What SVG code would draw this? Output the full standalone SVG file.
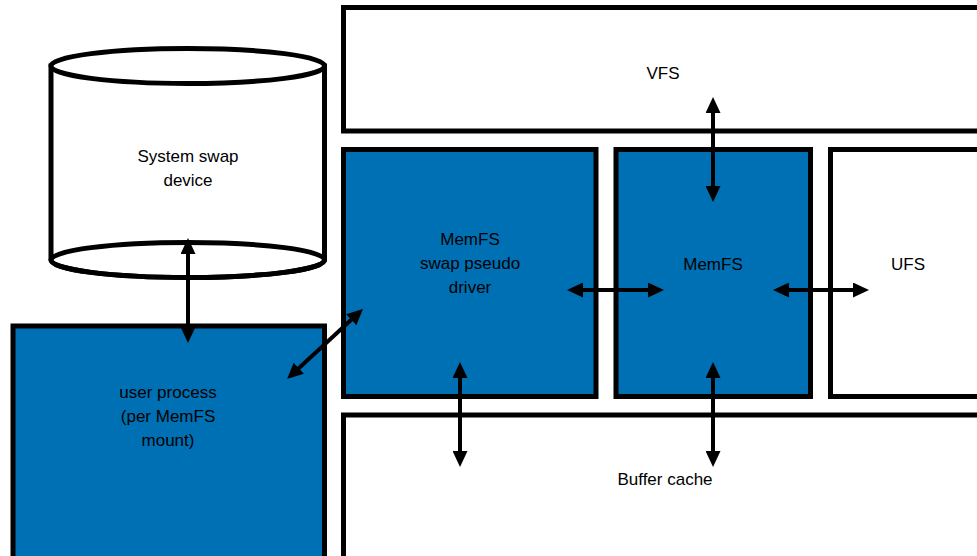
<svg xmlns="http://www.w3.org/2000/svg" width="977" height="556" viewBox="0 0 977 556">
<style>
.box{stroke:#000;stroke-width:5}
.blue{fill:#0070b4}
.white{fill:#fff}
.lbl{font-family:"Liberation Sans",Arial,sans-serif;font-size:17px;fill:#000;text-anchor:middle}
.conn{stroke:#000;stroke-width:4;fill:none;marker-start:url(#ah);marker-end:url(#ah)}
</style>
<defs>
<marker id="ah" markerUnits="userSpaceOnUse" markerWidth="16" markerHeight="15" refX="6" refY="7.5" orient="auto-start-reverse" viewBox="0 0 16 15">
<path d="M0,0 L16,7.5 L0,15 z" fill="#000"/>
</marker>
</defs>
<rect width="977" height="556" fill="#fff"/>
<g id="vfs">
<rect class="box white" x="343.5" y="7.5" width="700" height="123.5"/>
<text class="lbl" x="663" y="79">VFS</text>
</g>
<g id="swapdriver">
<rect class="box blue" x="343.5" y="149.5" width="252.5" height="247"/>
<text class="lbl" x="470" y="245">MemFS</text>
<text class="lbl" x="470" y="269">swap pseudo</text>
<text class="lbl" x="470" y="293">driver</text>
</g>
<g id="memfs">
<rect class="box blue" x="616" y="149.5" width="194.5" height="247"/>
<text class="lbl" x="713" y="270">MemFS</text>
</g>
<g id="ufs">
<rect class="box white" x="830.5" y="149.5" width="200" height="247"/>
<text class="lbl" x="908" y="270">UFS</text>
</g>
<g id="buffercache">
<rect class="box white" x="343.5" y="415" width="700" height="200"/>
<text class="lbl" x="665" y="485">Buffer cache</text>
</g>
<g id="userprocess">
<rect class="box blue" x="13" y="326" width="311.5" height="300"/>
<text class="lbl" x="168" y="398">user process</text>
<text class="lbl" x="168" y="422">(per MemFS</text>
<text class="lbl" x="168" y="446">mount)</text>
</g>
<g id="swapdevice">
<path class="box white" d="M51,66 L51,260 A136.75,17.5 0 0 0 324.5,260 L324.5,66 Z"/>
<ellipse class="box white" cx="187.75" cy="66" rx="136.75" ry="17.5"/>
<ellipse class="box" fill="none" cx="187.75" cy="260" rx="136.75" ry="17.5"/>
<text class="lbl" x="188" y="162">System swap</text>
<text class="lbl" x="188" y="186">device</text>
</g>
<g id="connectors">
<line class="conn" x1="188" y1="248" x2="188" y2="333"/>
<line class="conn" x1="294.4" y1="372.2" x2="355.6" y2="315.8"/>
<line class="conn" x1="713" y1="107" x2="713" y2="192"/>
<line class="conn" x1="577" y1="290" x2="654" y2="290"/>
<line class="conn" x1="783" y1="290" x2="859" y2="290"/>
<line class="conn" x1="460" y1="372" x2="460" y2="457"/>
<line class="conn" x1="713" y1="372" x2="713" y2="457"/>
</g>
</svg>
